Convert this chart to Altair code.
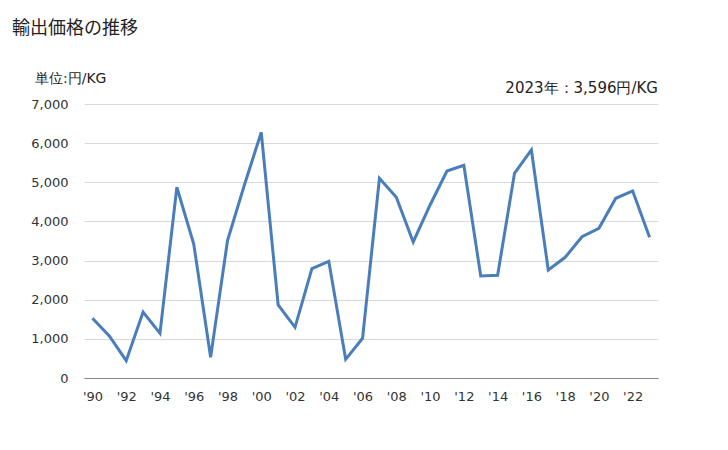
import altair as alt
import pandas as pd

years = list(range(1990, 2024))
values = [1525, 1073, 443, 1686, 1141, 4872, 3424, 528, 3508, 4930,
          6277, 1865, 1295, 2793, 2981, 477, 1014, 5102, 4617, 3475,
          4420, 5289, 5434, 2606, 2623, 5230, 5825, 2759, 3083, 3610,
          3824, 4591, 4778, 3596]
tick_years = list(range(1990, 2023, 2))

df = pd.DataFrame({"year": years, "value": values})
one = pd.DataFrame({"k": [0]})

FONT = "DejaVu Sans"

line = alt.Chart(df).mark_line(color="#4a7ebb", strokeWidth=3).encode(
    x=alt.X("year:Q",
            scale=alt.Scale(domain=[1989.5, 2023.5], nice=False, zero=False),
            axis=alt.Axis(values=tick_years, labelExpr="\"'\" + slice(toString(datum.value), 2)",
                          grid=False, ticks=False, domain=True, domainColor="#888888",
                          labelFont=FONT, labelFontSize=13, labelColor="#333333",
                          labelPadding=12, title=None)),
    y=alt.Y("value:Q",
            scale=alt.Scale(domain=[0, 7000], nice=False),
            axis=alt.Axis(values=list(range(0, 7001, 1000)), format=",d",
                          grid=True, gridColor="#d9d9d9", ticks=False, domain=False,
                          labelFont=FONT, labelFontSize=13, labelColor="#333333",
                          labelPadding=16, title=None)),
)

title = alt.Chart(one).mark_text(align="left", baseline="middle", font="Noto Sans CJK JP",
                                 fontSize=18, color="#222222").encode(
    x=alt.value(-72), y=alt.value(-75), text=alt.value("輸出価格の推移"))

unit = alt.Chart(one).mark_text(align="left", baseline="middle", font=FONT,
                                fontSize=14, color="#222222").encode(
    x=alt.value(-49), y=alt.value(-25), text=alt.value("単位:円/KG"))

note = alt.Chart(one).mark_text(align="right", baseline="middle", font=FONT,
                                fontSize=15, color="#222222").encode(
    x=alt.value(574), y=alt.value(-16), text=alt.value("2023年：3,596円/KG"))

chart = alt.layer(line, title, unit, note).properties(
    width=574, height=274,
    padding={"left": 84, "top": 104, "right": 70, "bottom": 72},
    autosize=alt.AutoSizeParams(type="none"),
).configure_view(stroke=None)

chart.save("out.html", embed_options={"renderer": "svg", "actions": False})
